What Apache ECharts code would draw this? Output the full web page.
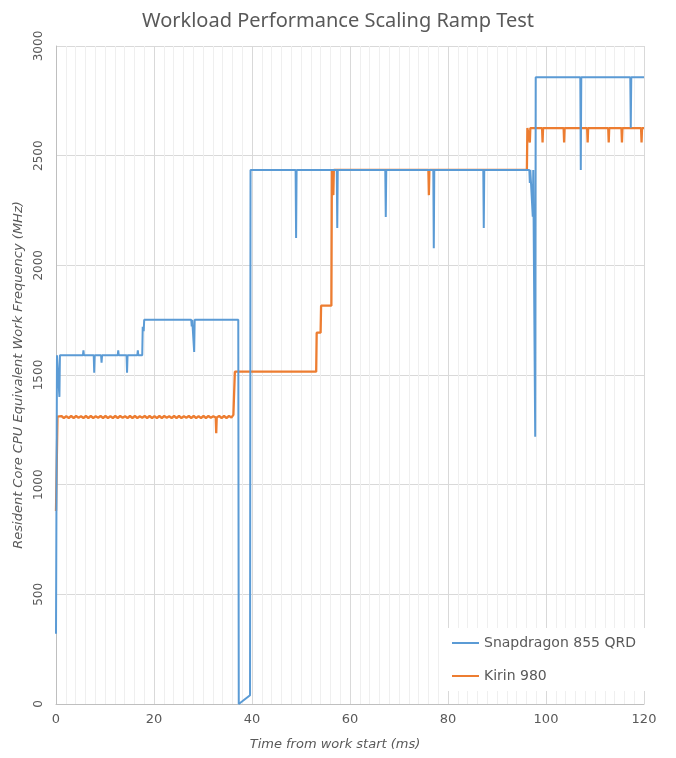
<!DOCTYPE html>
<html>
<head>
<meta charset="utf-8">
<script src="https://cdn.jsdelivr.net/npm/echarts@6/dist/echarts.min.js"></script>
<style>
html,body{margin:0;padding:0;background:#fff;}
#chart{width:676px;height:758px;}
</style>
</head>
<body>
<div id="chart"></div>
<script>
// ---- Data (time in ms, frequency in MHz) ----
var titleText = "Workload Performance Scaling Ramp Test";
var xAxisTitle = "Time from work start (ms)";
var yAxisTitle = "Resident Core CPU Equivalent Work Frequency (MHz)";
var seriesNames = ["Snapdragon 855 QRD", "Kirin 980"];
var xTicks = [0, 20, 40, 60, 80, 100, 120];
var yTicks = [0, 500, 1000, 1500, 2000, 2500, 3000];

var snapdragon = [
  [0, 320], [0.2, 1590], [0.6, 1590], [0.7, 1400], [0.8, 1590],
  [5.5, 1590], [5.6, 1612], [5.7, 1590],
  [7.7, 1590], [7.8, 1510], [7.9, 1590],
  [9.2, 1590], [9.3, 1556], [9.4, 1590],
  [12.6, 1590], [12.7, 1612], [12.8, 1590],
  [14.4, 1590], [14.5, 1510], [14.6, 1590],
  [16.6, 1590], [16.7, 1612], [16.8, 1590],
  [17.6, 1590], [17.7, 1720], [17.9, 1700], [18.0, 1752],
  [27.6, 1752], [27.7, 1722], [27.8, 1752],
  [28.1, 1752], [28.2, 1605], [28.3, 1752],
  [37.2, 1752], [37.3, 0], [39.6, 40], [39.7, 2435],
  [48.9, 2435], [49.0, 2125], [49.1, 2435],
  [57.3, 2435], [57.4, 2170], [57.5, 2435],
  [67.2, 2435], [67.3, 2220], [67.4, 2435],
  [77.0, 2435], [77.1, 2078], [77.2, 2435],
  [87.2, 2435], [87.3, 2170], [87.4, 2435],
  [96.6, 2435], [96.7, 2375], [96.8, 2435],
  [97.2, 2435], [97.3, 2222], [97.4, 2435],
  [97.7, 2435], [97.8, 1218], [97.9, 2857],
  [107.0, 2857], [107.1, 2435], [107.2, 2857],
  [117.2, 2857], [117.3, 2627], [117.4, 2857], [120, 2857]
];

var kirin = [
  [0, 880], [0.3, 1310],
  [0.6, 1304], [1.1, 1313], [1.6, 1304], [2.1, 1312], [2.6, 1304], [3.1, 1313],
  [3.6, 1304], [4.1, 1313], [4.6, 1305], [5.1, 1312], [5.6, 1304], [6.1, 1313],
  [6.6, 1304], [7.1, 1313], [7.6, 1304], [8.1, 1312], [8.6, 1305], [9.1, 1313],
  [9.6, 1304], [10.1, 1313], [10.6, 1304], [11.1, 1312], [11.6, 1304], [12.1, 1313],
  [12.6, 1304], [13.1, 1313], [13.6, 1305], [14.1, 1312], [14.6, 1304], [15.1, 1313],
  [15.6, 1304], [16.1, 1313], [16.6, 1304], [17.1, 1312], [17.6, 1305], [18.1, 1313],
  [18.6, 1304], [19.1, 1313], [19.6, 1304], [20.1, 1312], [20.6, 1304], [21.1, 1313],
  [21.6, 1304], [22.1, 1313], [22.6, 1305], [23.1, 1312], [23.6, 1304], [24.1, 1313],
  [24.6, 1304], [25.1, 1313], [25.6, 1304], [26.1, 1312], [26.6, 1305], [27.1, 1313],
  [27.6, 1304], [28.1, 1313], [28.6, 1304], [29.1, 1312], [29.6, 1304], [30.1, 1313],
  [30.6, 1304], [31.1, 1313], [31.6, 1305], [32.1, 1312], [32.6, 1306], [32.7, 1235],
  [32.8, 1306], [33.3, 1313], [33.8, 1304], [34.3, 1313], [34.8, 1304], [35.3, 1313],
  [35.8, 1306], [36.2, 1318], [36.4, 1318], [36.5, 1515],
  [53.1, 1515], [53.2, 1693], [54.0, 1693], [54.1, 1816], [56.2, 1816], [56.3, 2435],
  [56.5, 2435], [56.6, 2320], [56.7, 2435],
  [76.0, 2435], [76.1, 2320], [76.2, 2435],
  [96.1, 2435], [96.2, 2626],
  [96.6, 2626], [96.7, 2560], [96.8, 2626],
  [99.2, 2626], [99.3, 2560], [99.4, 2626],
  [103.6, 2626], [103.7, 2560], [103.8, 2626],
  [108.4, 2626], [108.5, 2560], [108.6, 2626],
  [112.7, 2626], [112.8, 2560], [112.9, 2626],
  [115.4, 2626], [115.5, 2560], [115.6, 2626],
  [119.4, 2626], [119.5, 2560], [119.6, 2626], [120, 2626]
];

var colors = ["#5b9bd5", "#ed7d31"];
var txt = "#595959";
var font = "DejaVu Sans";

var chart = echarts.init(document.getElementById('chart'), null, {renderer: 'canvas'});
chart.setOption({
  animation: false,
  backgroundColor: '#ffffff',
  title: {
    text: titleText,
    left: 'center',
    top: 6,
    textStyle: {fontFamily: 'Noto Sans', fontSize: 20, fontWeight: 'normal', color: txt}
  },
  legend: {
    orient: 'vertical',
    left: 446,
    top: 628,
    backgroundColor: '#ffffff',
    padding: [8, 10, 8, 6],
    itemGap: 19,
    itemWidth: 27,
    itemHeight: 2,
    icon: 'rect',
    textStyle: {fontFamily: font, fontSize: 14, color: txt},
    data: seriesNames
  },
  grid: {left: 56, right: 32, top: 46, bottom: 54, containLabel: false},
  xAxis: {
    type: 'value',
    min: xTicks[0],
    max: xTicks[xTicks.length - 1],
    interval: xTicks[1] - xTicks[0],
    name: xAxisTitle,
    nameLocation: 'middle',
    nameGap: 34,
    nameTextStyle: {fontFamily: font, fontSize: 13, fontStyle: 'italic', color: txt, padding: [0, 30, 0, 0]},
    axisLine: {show: true, lineStyle: {color: '#bfbfbf', width: 1}},
    axisTick: {show: false},
    axisLabel: {fontFamily: font, fontSize: 13, color: txt, margin: 9},
    splitLine: {show: true, lineStyle: {color: '#d9d9d9', width: 1}},
    minorTick: {show: false, splitNumber: 10},
    minorSplitLine: {show: true, lineStyle: {color: '#efefef', width: 1}}
  },
  yAxis: {
    type: 'value',
    min: yTicks[0],
    max: yTicks[yTicks.length - 1],
    interval: yTicks[1] - yTicks[0],
    name: yAxisTitle,
    nameLocation: 'middle',
    nameGap: 30,
    nameRotate: 90,
    nameTextStyle: {fontFamily: font, fontSize: 13, fontStyle: 'italic', color: txt},
    axisLine: {show: true, lineStyle: {color: '#bfbfbf', width: 1}},
    axisTick: {show: false},
    axisLabel: {fontFamily: font, fontSize: 12, color: txt, rotate: 90, margin: 11,
      formatter: function (v) { return String(v); }},
    splitLine: {show: true, lineStyle: {color: '#d9d9d9', width: 1}}
  },
  series: [
    {
      name: seriesNames[0],
      type: 'line',
      data: snapdragon,
      symbol: 'none',
      z: 3,
      lineStyle: {color: colors[0], width: 2},
      itemStyle: {color: colors[0]}
    },
    {
      name: seriesNames[1],
      type: 'line',
      data: kirin,
      symbol: 'none',
      z: 2,
      lineStyle: {color: colors[1], width: 2.3},
      itemStyle: {color: colors[1]}
    }
  ]
});
</script>
</body>
</html>
